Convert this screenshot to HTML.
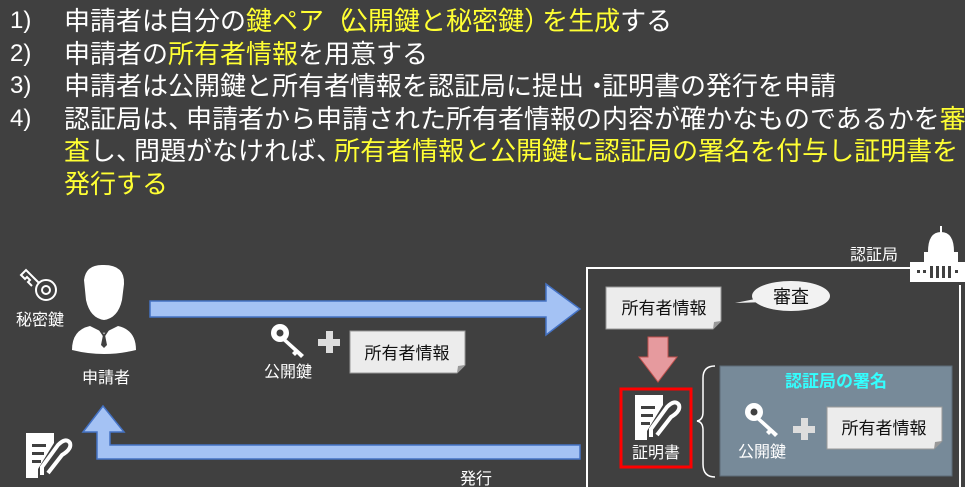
<!DOCTYPE html>
<html><head><meta charset="utf-8"><style>
body{margin:0;width:965px;height:487px;overflow:hidden;background:#404040;font-family:"Liberation Sans","Noto Sans CJK JP",sans-serif;}
.t{position:absolute;left:0;top:5px;color:#fff;font-size:26px;line-height:32.6px;white-space:nowrap;}
.t div{position:relative;padding-left:64px;}
.t span.n{position:absolute;left:10px;font-size:24px;}
.y{color:#ffff33;}
.p{letter-spacing:-8px;}
svg{position:absolute;left:0;top:0;}
svg text{font-family:"Liberation Sans","Noto Sans CJK JP",sans-serif;}
</style></head><body>
<div class="t">
<div><span class="n">1)</span>申請者は自分の<span class="y">鍵ペア<span class="p">（</span>公開鍵と秘密鍵<span class="p">）</span>を生成</span>する</div>
<div><span class="n">2)</span>申請者の<span class="y">所有者情報</span>を用意する</div>
<div><span class="n">3)</span>申請者は公開鍵と所有者情報を認証局に提出<span class="p">・</span>証明書の発行を申請</div>
<div><span class="n">4)</span>認証局は<span class="p">、</span>申請者から申請された所有者情報の内容が確かなものであるかを<span class="y">審</span></div>
<div><span class="y">査</span>し<span class="p">、</span>問題がなければ<span class="p">、</span><span class="y">所有者情報と公開鍵に認証局の署名を付与し証明書を</span></div>
<div><span class="y">発行する</span></div>
</div>
<svg width="965" height="487" viewBox="0 0 965 487">
<defs>
<g id="note"><path d="M0 0H115V34L107 42H0Z" fill="#ececec" stroke="#999" stroke-width="1"/><path d="M115 34L107 42L108 35Z" fill="#999"/></g>
<g id="doc"><path d="M0 0H28V10L12 36V45H0Z" fill="#fff"/><rect x="6" y="11" width="14" height="3" fill="#404040"/><rect x="6" y="19" width="12" height="3" fill="#404040"/><rect x="6" y="27" width="9" height="3" fill="#404040"/><path d="M16 42 L16 34 L32 12 Q40 4 44 10 Q46 16 36 22 L22 40" fill="none" stroke="#fff" stroke-width="4"/></g>
<g id="key"><circle cx="10" cy="10" r="9" fill="#fff"/><circle cx="10" cy="10" r="3.5" fill="#404040"/><path d="M15 15L34 32L31 35L27 31L25 33L22 30L24 28L12 17Z" fill="#fff"/></g>
<g id="plus"><rect x="8" y="0" width="7" height="22" fill="#ddd"/><rect x="0" y="8" width="22" height="7" fill="#ddd"/></g>
</defs>
<path d="M150 301H546V284L580 309L546 335V317H150Z" fill="#a4c2f4" stroke="#4472c4" stroke-width="1.5"/>
<path d="M580 445H110V432H124L103 406L83 432H97V459H580Z" fill="#a4c2f4" stroke="#4472c4" stroke-width="1.5"/>
<g fill="#fff">
<path d="M84 280Q86 264 104 265Q125 265 124 284L122 300Q118 318 104 320Q90 318 86 300Z"/>
<path d="M72 350Q72 330 90 326L104 333L118 326Q136 330 136 350Q104 358 72 350Z"/>
</g>
<path d="M92 318L104 336L116 318" stroke="#404040" stroke-width="2" fill="none"/>
<path d="M103 335L101 345L104 348L107 345L105 335Z" fill="#404040"/>
<text x="106" y="383" fill="#fff" font-size="16" text-anchor="middle">申請者</text>
<g fill="none" stroke="#fff" stroke-width="2"><circle cx="46" cy="290" r="10"/><circle cx="46" cy="290" r="4"/><path d="M39 283L26 270L21 275L25 279L27 277L30 280L28 282L32 286"/></g>
<text x="40" y="325" fill="#fff" font-size="16" text-anchor="middle">秘密鍵</text>
<use href="#key" x="270" y="323"/>
<text x="288" y="377" fill="#fff" font-size="16" text-anchor="middle">公開鍵</text>
<use href="#plus" x="318" y="331"/>
<use href="#note" x="350" y="331"/>
<text x="407" y="359" fill="#111" font-size="17" text-anchor="middle">所有者情報</text>
<use href="#doc" x="26" y="433"/>
<text x="476" y="484" fill="#fff" font-size="16" text-anchor="middle">発行</text>
<path d="M587 487V268H910M960 285V487" fill="none" stroke="#fff" stroke-width="2"/>
<text x="874" y="260" fill="#fff" font-size="16" text-anchor="middle">認証局</text>
<g fill="#fff"><rect x="940" y="226" width="2" height="8"/><path d="M928 252Q928 232 941 232Q954 232 954 252Z"/><rect x="924" y="252" width="34" height="10"/><rect x="910" y="262" width="55" height="20"/></g>
<g fill="#404040"><rect x="917" y="270" width="3" height="3"/><rect x="923" y="270" width="3" height="3"/><rect x="930" y="266" width="3" height="12"/><rect x="936" y="266" width="3" height="12"/><rect x="942" y="266" width="3" height="12"/><rect x="948" y="266" width="3" height="12"/><rect x="955" y="270" width="3" height="3"/></g>
<use href="#note" x="606" y="287"/>
<text x="664" y="314" fill="#111" font-size="17" text-anchor="middle">所有者情報</text>
<path d="M735 303L760 298L765 302Z" fill="#f2f2f2"/>
<ellipse cx="791" cy="296" rx="39" ry="15" fill="#f2f2f2"/>
<text x="791" y="303" fill="#111" font-size="18" text-anchor="middle">審査</text>
<path d="M648 337H668V357H677L658 382L639 357H648Z" fill="#e69a9e" stroke="#c0504d" stroke-width="1"/>
<rect x="621" y="389" width="70" height="78" fill="none" stroke="#f00" stroke-width="3"/>
<use href="#doc" x="635" y="395"/>
<text x="656" y="458" fill="#fff" font-size="16" text-anchor="middle">証明書</text>
<path d="M715 366Q703 366 703 378V412Q703 420 697 421Q703 422 703 430V464Q703 477 715 477" fill="none" stroke="#fff" stroke-width="1.5"/>
<rect x="720" y="366" width="232" height="110" fill="#778a99" stroke="#5c6b77" stroke-width="1"/>
<text x="836" y="387" fill="#33ffff" font-size="17" font-weight="bold" text-anchor="middle">認証局の署名</text>
<use href="#key" x="744" y="402"/>
<text x="762" y="457" fill="#fff" font-size="16" text-anchor="middle">公開鍵</text>
<use href="#plus" x="793" y="418"/>
<use href="#note" x="827" y="407"/>
<text x="884" y="434" fill="#111" font-size="17" text-anchor="middle">所有者情報</text>
</svg>
</body></html>
